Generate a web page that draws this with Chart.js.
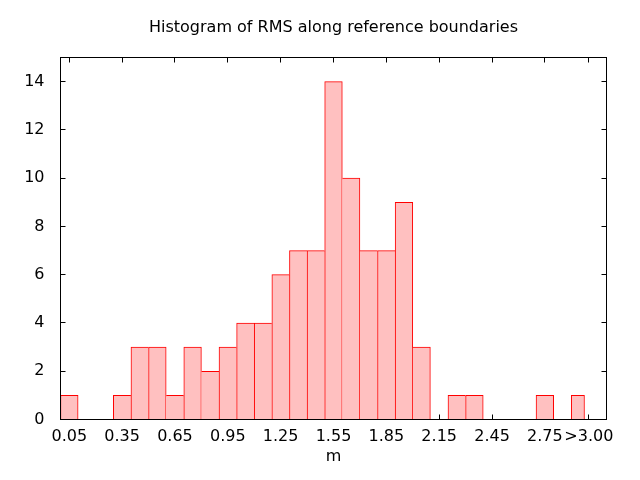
<!DOCTYPE html>
<html>
<head>
<meta charset="utf-8">
<script src="https://cdn.jsdelivr.net/npm/chart.js@4"></script>
<style>
html,body{margin:0;padding:0;background:#fff;}
#wrap{width:640px;height:480px;position:relative;}
</style>
</head>
<body>
<div id="wrap"><canvas id="c" width="640" height="480"></canvas></div>
<script>
// ---- data ----
const binCenters = [0.05,0.15,0.25,0.35,0.45,0.55,0.65,0.75,0.85,0.95,1.05,1.15,1.25,1.35,1.45,1.55,1.65,1.75,1.85,1.95,2.05,2.15,2.25,2.35,2.45,2.55,2.65,2.75,2.85];
const binCounts  = [1,0,0,1,3,3,1,3,2,3,4,4,6,7,7,14,10,7,7,9,3,0,1,1,0,0,0,1,0];
const overflowBinEdges = [2.9, 2.975];
const overflowCount = 1;
const xTickValues = [0.05,0.35,0.65,0.95,1.25,1.55,1.85,2.15,2.45,2.75,3.0];
const xTickLabels = ['0.05','0.35','0.65','0.95','1.25','1.55','1.85','2.15','2.45','2.75','>3.00'];
const yTickValues = [0,2,4,6,8,10,12,14];
const xRange = [0, 3.1];
const yRange = [0, 15];
const titleText = 'Histogram of RMS along reference boundaries';
const xAxisTitle = 'm';

// ---- style ----
const FILL = '#ffc0c0';
const EDGE = '#ff0000';
Chart.defaults.font.family = "'DejaVu Sans', sans-serif";
Chart.defaults.font.size = 16;
Chart.defaults.color = '#000';

function edgeWidths(i) {
  const v = binCounts[i];
  if (!v) return 0;
  const prev = i > 0 ? binCounts[i - 1] : 0;
  const next = i < binCounts.length - 1 ? binCounts[i + 1] : 0;
  return { left: prev <= v ? 1 : 0, top: 1, bottom: 0, right: next < v ? 1 : 0 };
}

const frameAndTicks = {
  id: 'frameAndTicks',
  beforeDatasetsDraw(chart) {
    const { ctx, chartArea: a, scales: { x, y } } = chart;
    const L = 5;
    ctx.save();
    ctx.strokeStyle = '#000';
    ctx.lineWidth = 1;
    ctx.beginPath();
    x.ticks.forEach(t => {
      const px = Math.floor(x.getPixelForValue(t.value)) + 0.5;
      ctx.moveTo(px, a.bottom); ctx.lineTo(px, a.bottom - L);
      ctx.moveTo(px, a.top); ctx.lineTo(px, a.top + L);
    });
    y.ticks.forEach(t => {
      const py = Math.floor(y.getPixelForValue(t.value)) + 0.5;
      ctx.moveTo(a.left, py); ctx.lineTo(a.left + L, py);
      ctx.moveTo(a.right, py); ctx.lineTo(a.right - L, py);
    });
    ctx.stroke();
    ctx.restore();
  },
  afterDatasetsDraw(chart) {
    const { ctx, chartArea: a } = chart;
    ctx.save();
    ctx.strokeStyle = '#000';
    ctx.lineWidth = 1;
    ctx.strokeRect(a.left, a.top, a.right - a.left, a.bottom - a.top);
    ctx.restore();
  }
};

new Chart(document.getElementById('c'), {
  type: 'bar',
  data: {
    datasets: [
      {
        data: binCenters.map((x, i) => ({ x: x, y: binCounts[i] })),
        xAxisID: 'x',
        grouped: false,
        backgroundColor: FILL,
        borderColor: EDGE,
        borderWidth: ctx => edgeWidths(ctx.dataIndex),
        borderSkipped: 'start',
        barPercentage: 1,
        categoryPercentage: 1
      },
      {
        data: [{ x: (overflowBinEdges[0] + overflowBinEdges[1]) / 2, y: overflowCount }],
        xAxisID: 'x2',
        grouped: false,
        backgroundColor: FILL,
        borderColor: EDGE,
        borderWidth: { left: 1, top: 1, right: 1, bottom: 0 },
        borderSkipped: 'start',
        barPercentage: 1,
        categoryPercentage: 1
      }
    ]
  },
  options: {
    responsive: false,
    animation: false,
    devicePixelRatio: 1,
    layout: { padding: { left: 0, right: 33.5, top: 0, bottom: 0 } },
    plugins: {
      legend: { display: false },
      tooltip: { enabled: false },
      title: {
        display: true,
        text: titleText,
        fullSize: false,
        font: { size: 16, weight: 'normal' },
        color: '#000',
        padding: { top: 18, bottom: 20.3 }
      }
    },
    scales: {
      x: {
        type: 'linear',
        position: 'bottom',
        min: xRange[0],
        max: xRange[1],
        offset: false,
        grid: { display: false, drawTicks: false, offset: false },
        border: { display: false },
        afterBuildTicks: s => { s.ticks = xTickValues.map(v => ({ value: v })); },
        afterFit: s => { s.height = 60.5; },
        ticks: {
          autoSkip: false,
          maxRotation: 0,
          minRotation: 0,
          padding: 8,
          callback: v => xTickLabels[xTickValues.indexOf(v)]
        },
        title: { display: true, text: xAxisTitle, padding: { top: 0, bottom: 14 } }
      },
      x2: {
        type: 'linear',
        position: 'bottom',
        display: false,
        min: xRange[0],
        max: xRange[1],
        offset: false,
        grid: { offset: false },
        afterBuildTicks: s => { s.ticks = overflowBinEdges.map(v => ({ value: v })); }
      },
      y: {
        type: 'linear',
        min: yRange[0],
        max: yRange[1],
        grid: { display: false, drawTicks: false },
        border: { display: false },
        afterBuildTicks: s => { s.ticks = yTickValues.map(v => ({ value: v })); },
        afterFit: s => { s.width = 60.5; },
        ticks: { padding: 16, autoSkip: false }
      }
    }
  },
  plugins: [frameAndTicks]
});
</script>
</body>
</html>
